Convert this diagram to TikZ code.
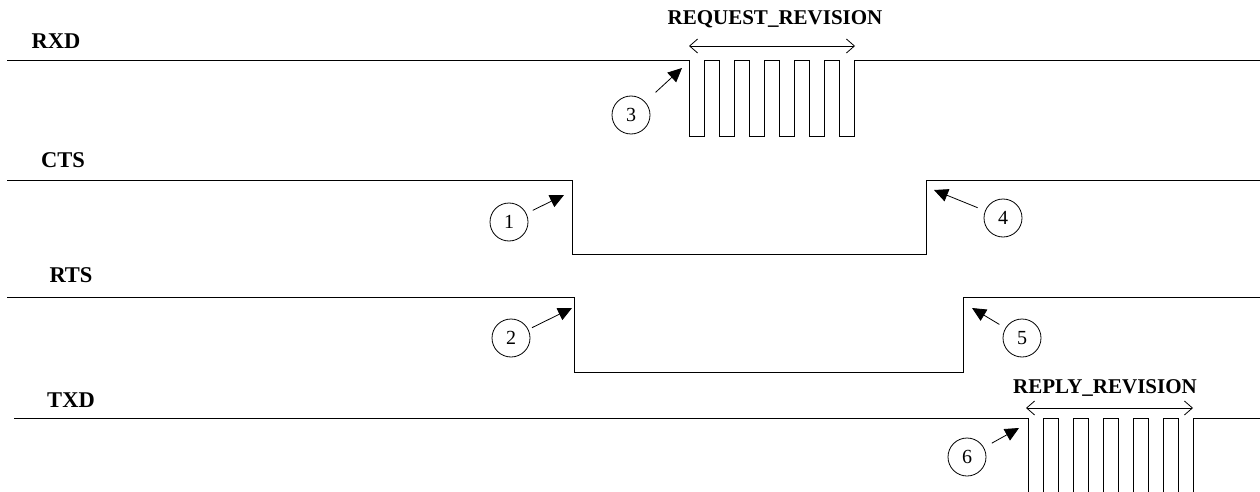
\documentclass[tikz,border=0pt]{standalone}
\usepackage{fontspec}
\setmainfont{Liberation Serif}
\usetikzlibrary{arrows.meta}

\begin{document}
\begin{tikzpicture}[x=1pt,y=-1pt]
        \tikzset{
        sig line/.style={line width=1pt},
        sig name/.style={anchor=base,inner sep=0,font=\fontsize{22.5}{26}\selectfont\bfseries},
        frame name/.style={anchor=base,inner sep=0,font=\fontsize{21}{25}\selectfont\bfseries},
        step mark/.style={circle,draw,line width=0.8pt,minimum size=38pt,inner sep=0,font=\fontsize{20}{22}\selectfont},
        step arrow/.style={line width=0.8pt,-{Triangle[length=14pt,width=13pt]}},
        frame span/.style={line width=0.8pt,{Straight Barb[length=8pt,width=14pt]}-{Straight Barb[length=8pt,width=14pt]}}
        }
        \useasboundingbox (0,0) rectangle (1260,492);

        % signal names
        \node[sig name] (rxd) at (56,49) {RXD};
        \node[sig name] (cts) at (63,167) {CTS};
        \node[sig name] (rts) at (71,282) {RTS};
        \node[sig name] (txd) at (71,407) {TXD};

        % RXD
        \draw[sig line] (7,61) -- (689,61)
            -- ++(0,75) -- ++(15,0) -- ++(0,-75) -- ++(15,0)
            -- ++(0,75) -- ++(15,0) -- ++(0,-75) -- ++(15,0)
            -- ++(0,75) -- ++(15,0) -- ++(0,-75) -- ++(15,0)
            -- ++(0,75) -- ++(15,0) -- ++(0,-75) -- ++(15,0)
            -- ++(0,75) -- ++(15,0) -- ++(0,-75) -- ++(15,0)
            -- ++(0,75) -- ++(15,0) -- ++(0,-75)
            -- (1260,61);
        % CTS
        \draw[sig line] (7,180) -- (572,180) -- (572,254) -- (926,254) -- (926,180) -- (1260,180);
        % RTS
        \draw[sig line] (7,297) -- (574,297) -- (574,372) -- (963,372) -- (963,297) -- (1260,297);
        % TXD
        \draw[sig line] (14,418) -- (1028,418)
            -- ++(0,77) -- ++(15,0) -- ++(0,-77) -- ++(15,0)
            -- ++(0,77) -- ++(15,0) -- ++(0,-77) -- ++(15,0)
            -- ++(0,77) -- ++(15,0) -- ++(0,-77) -- ++(15,0)
            -- ++(0,77) -- ++(15,0) -- ++(0,-77) -- ++(15,0)
            -- ++(0,77) -- ++(15,0) -- ++(0,-77) -- ++(15,0)
            -- ++(0,77) -- ++(15,0) -- ++(0,-77)
            -- (1260,418);

        % frames
        \node[frame name] (req) at (775,25) {REQUEST\_REVISION};
        \coordinate (req a) at (689,46);
        \coordinate (req b) at (855,46);
        \draw[frame span] (req a) -- (req b);
        \node[frame name] (rep) at (1105,393) {REPLY\_REVISION};
        \coordinate (rep a) at (1026,408);
        \coordinate (rep b) at (1193,408);
        \draw[frame span] (rep a) -- (rep b);

        % steps
        \node[step mark] (c1) at (509,222) {1};
        \node[step mark] (c2) at (511,338) {2};
        \node[step mark] (c3) at (631,115) {3};
        \node[step mark] (c4) at (1003,218) {4};
        \node[step mark] (c5) at (1022,338) {5};
        \node[step mark] (c6) at (967,457) {6};
        \coordinate (t1) at (564,195);
        \coordinate (t2) at (572,308);
        \coordinate (t3) at (682,68);
        \coordinate (t4) at (934,190);
        \coordinate (t5) at (972,308);
        \coordinate (t6) at (1019,428);

        \draw[step arrow,shorten <=7pt] (c1) -- (t1);
        \draw[step arrow,shorten <=4pt] (c2) -- (t2);
        \draw[step arrow,shorten <=14pt] (c3) -- (t3);
        \draw[step arrow,shorten <=8pt] (c4) -- (t4);
        \draw[step arrow,shorten <=7pt] (c5) -- (t5);
        \draw[step arrow,shorten <=9pt] (c6) -- (t6);
    \end{tikzpicture}
\end{document}
